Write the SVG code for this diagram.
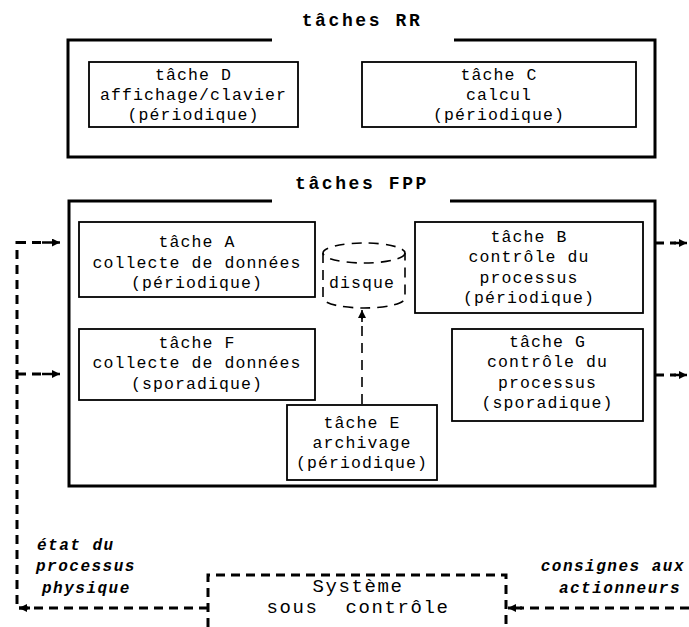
<svg xmlns="http://www.w3.org/2000/svg" width="689" height="627" viewBox="0 0 689 627">
<style>
.t{font-family:"Liberation Mono","Courier New",monospace;font-size:16.5px;letter-spacing:1.1px;text-anchor:middle;fill:#000}
.ttl{font-family:"Liberation Mono","Courier New",monospace;font-size:18px;font-weight:bold;letter-spacing:2.6px;text-anchor:middle;fill:#000}
.lbl{font-family:"Liberation Mono","Courier New",monospace;font-size:16px;font-weight:bold;font-style:italic;letter-spacing:1.5px;fill:#000}
.sys{font-family:"Liberation Mono","Courier New",monospace;font-size:19px;letter-spacing:1.6px;text-anchor:middle;fill:#000}
.frame{fill:none;stroke:#000;stroke-width:3}
.box{fill:#fff;stroke:#000;stroke-width:1.8}
.dash{fill:none;stroke:#000;stroke-width:3;stroke-dasharray:9 6}
.thin{fill:none;stroke:#000;stroke-width:1.6;stroke-dasharray:10 7}
</style>
<defs>
<marker id="ah" viewBox="0 0 10 10" refX="10" refY="5" markerWidth="10" markerHeight="8" markerUnits="userSpaceOnUse" orient="auto">
<path d="M0,0 L10,5 L0,10 z" fill="#000"/>
</marker>
<marker id="ahs" viewBox="0 0 10 10" refX="10" refY="5" markerWidth="9" markerHeight="8" markerUnits="userSpaceOnUse" orient="auto">
<path d="M0,0 L10,5 L0,10 z" fill="#000"/>
</marker>
</defs>

<g id="rr">
<text class="ttl" x="362" y="26">tâches RR</text>
<path class="frame" d="M272,40 H68 V157 H655 V40 H454"/>
</g>
<g id="taskD">
<rect class="box" x="89" y="62" width="209" height="65"/>
<text class="t" x="193.5" y="80">tâche D</text>
<text class="t" x="193.5" y="100">affichage/clavier</text>
<text class="t" x="193.5" y="120">(périodique)</text>
</g>
<g id="taskC">
<rect class="box" x="362" y="62" width="274" height="65"/>
<text class="t" x="499" y="80">tâche C</text>
<text class="t" x="499" y="100">calcul</text>
<text class="t" x="499" y="120">(périodique)</text>
</g>

<g id="fpp">
<text class="ttl" x="362" y="189">tâches FPP</text>
<path class="frame" d="M272,201 H69 V486 H655 V201 H450"/>
</g>
<g id="taskA">
<rect class="box" x="79" y="222" width="236" height="75"/>
<text class="t" x="197" y="247">tâche A</text>
<text class="t" x="197" y="268">collecte de données</text>
<text class="t" x="197" y="288">(périodique)</text>
</g>
<g id="taskF">
<rect class="box" x="79" y="329" width="236" height="71"/>
<text class="t" x="197" y="348">tâche F</text>
<text class="t" x="197" y="368">collecte de données</text>
<text class="t" x="197" y="389">(sporadique)</text>
</g>
<g id="disque">
<ellipse class="thin" cx="364" cy="253" rx="41" ry="10" stroke-dasharray="9 6"/>
<path class="thin" stroke-dasharray="9 6" d="M323,253 V298 A41,10 0 0 0 405,298 V253"/>
<text class="t" x="362" y="288">disque</text>
</g>
<g id="taskB">
<rect class="box" x="415" y="222" width="228" height="91"/>
<text class="t" x="529" y="242">tâche B</text>
<text class="t" x="529" y="262">contrôle du</text>
<text class="t" x="529" y="283">processus</text>
<text class="t" x="529" y="303">(périodique)</text>
</g>
<g id="taskG">
<rect class="box" x="452" y="329" width="191" height="92"/>
<text class="t" x="547.5" y="347">tâche G</text>
<text class="t" x="547.5" y="367">contrôle du</text>
<text class="t" x="547.5" y="388">processus</text>
<text class="t" x="547.5" y="408">(sporadique)</text>
</g>
<g id="taskE">
<rect class="box" x="287" y="405" width="150" height="75"/>
<text class="t" x="362" y="428">tâche E</text>
<text class="t" x="362" y="448">archivage</text>
<text class="t" x="362" y="468">(périodique)</text>
</g>
<g id="systeme">
<path class="dash" d="M208,627 V575 H506 V627"/>
<text class="sys" x="358" y="592">Système</text>
<text class="sys" x="358" y="613" word-spacing="14">sous contrôle</text>
</g>

<g id="labels">
<text class="lbl" x="37" y="550">état du</text>
<text class="lbl" x="36" y="571">processus</text>
<text class="lbl" x="42" y="593">physique</text>
<text class="lbl" x="685" y="571" text-anchor="end">consignes aux</text>
<text class="lbl" x="681" y="593" text-anchor="end">actionneurs</text>
</g>

<g id="connectors">
<path class="dash" d="M208,608 H17 V241"/>
<path d="M30,608 L19,608" stroke="#000" stroke-width="3" marker-end="url(#ah)"/>
<path class="dash" d="M17,242.5 H44" />
<path d="M42,242.5 H60" stroke="#000" stroke-width="2.5" marker-end="url(#ah)"/>
<path class="dash" d="M17,374 H44" />
<path d="M42,374 H60" stroke="#000" stroke-width="2.5" marker-end="url(#ah)"/>
<path class="dash" d="M655,243 H676" />
<path d="M674,243 H687" stroke="#000" stroke-width="2.5" marker-end="url(#ah)"/>
<path class="dash" d="M655,375 H676" />
<path d="M674,375 H687" stroke="#000" stroke-width="2.5" marker-end="url(#ah)"/>
<path class="dash" d="M689,608 H520"/>
<path d="M522,608 H508" stroke="#000" stroke-width="3" marker-end="url(#ah)"/>
<path class="thin" stroke-dasharray="12 8" d="M362,404 V318"/>
<path d="M362,322 V310" stroke="#000" stroke-width="1.6" marker-end="url(#ahs)"/>
</g>
</svg>
